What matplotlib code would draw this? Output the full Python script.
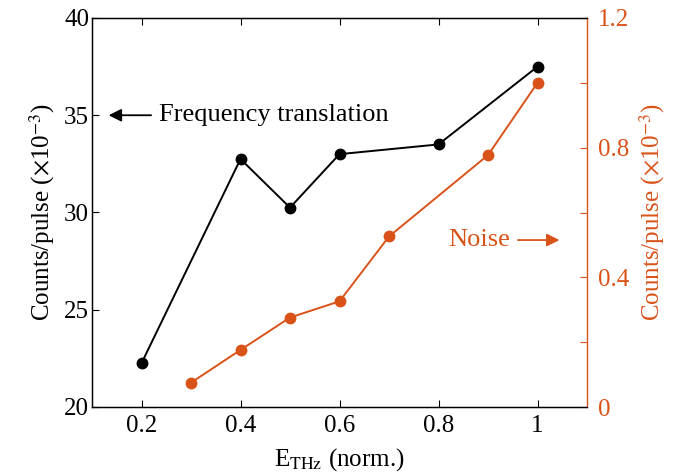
import matplotlib
matplotlib.use("Agg")
import matplotlib.pyplot as plt

plt.rcParams['font.family'] = ['Liberation Serif', 'DejaVu Serif']
plt.rcParams['mathtext.fontset'] = 'stix'

freq_x = [0.2, 0.4, 0.5, 0.6, 0.8, 1.0]
freq_y = [22.25, 32.75, 30.25, 33.0, 33.5, 37.5]
noise_x = [0.3, 0.4, 0.5, 0.6, 0.7, 0.9, 1.0]
noise_y = [0.075, 0.176, 0.276, 0.326, 0.526, 0.777, 1.0]

left_ticks = [20, 25, 30, 35, 40]
right_ticks = [0, 0.2, 0.4, 0.6, 0.8, 1.0, 1.2]
right_labels = ['0', '', '0.4', '', '0.8', '', '1.2']
x_ticks = [0.2, 0.4, 0.6, 0.8, 1.0]
x_labels = ['0.2', '0.4', '0.6', '0.8', '1']

orange = '#D95319'
fs = 18
fs_txt = 19

fig = plt.figure(figsize=(6.76, 4.72), dpi=100)
ax = fig.add_axes([92/676, 1 - 407/472, (587-92)/676, (407-18)/472])
ax2 = ax.twinx()

ax.plot(freq_x, freq_y, '-o', color='black', lw=1.4, ms=7.5)
ax2.plot(noise_x, noise_y, '-o', color=orange, lw=1.4, ms=7.5)

ax.set_xlim(0.1, 1.1)
ax.set_ylim(20, 40)
ax2.set_ylim(0, 1.2)
ax.set_xticks(x_ticks)
ax.set_xticklabels(x_labels)
ax.set_yticks(left_ticks)
ax2.set_yticks(right_ticks)
ax2.set_yticklabels(right_labels)

ax.tick_params(axis='x', direction='in', top=True, labelsize=fs, length=5, pad=6)
ax.tick_params(axis='y', direction='in', labelsize=fs, length=5, pad=2)
ax2.tick_params(axis='y', direction='in', colors=orange, labelsize=fs, length=5, pad=8)
for s in ['left', 'bottom', 'top']:
    ax.spines[s].set_linewidth(1.0)
ax2.spines['right'].set_color(orange)
ax2.spines['right'].set_linewidth(1.0)
ax.spines['right'].set_visible(False)

ax.set_xlabel(r'E$_{\mathrm{THz}}$ (norm.)', fontsize=fs, labelpad=6)
ax.set_ylabel(r'Counts/pulse ($\times$10$^{-3}$)', fontsize=fs, labelpad=5)
ax2.set_ylabel(r'Counts/pulse ($\times$10$^{-3}$)', fontsize=fs, color=orange, labelpad=6)

ax.annotate('', xy=(0.128, 35), xytext=(0.225, 35),
            arrowprops=dict(arrowstyle='-|>', color='black', lw=1.3, mutation_scale=19))
ax.text(0.236, 35, 'Frequency translation', fontsize=fs_txt, va='center', ha='left')

ax2.annotate('', xy=(1.05, 0.515), xytext=(0.955, 0.515),
             arrowprops=dict(arrowstyle='-|>', color=orange, lw=1.3, mutation_scale=19))
ax2.text(0.819, 0.515, 'Noise', fontsize=fs_txt, va='center', ha='left', color=orange)

fig.savefig('out.png', dpi=100)
